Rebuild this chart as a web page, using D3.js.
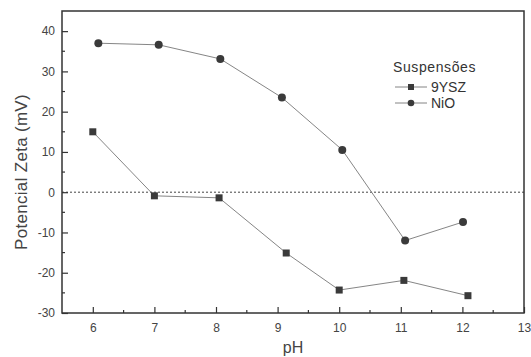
<!DOCTYPE html>
<html>
<head>
<meta charset="utf-8">
<script src="https://cdn.jsdelivr.net/npm/d3@7"></script>
<style>
  body { margin: 0; background: #fff; }
  text { font-family: "Liberation Sans", Arial, sans-serif; }
</style>
</head>
<body>
<script>
// data
var ysz_ph = [6.0, 7.0, 8.05, 9.14, 10.0, 11.05, 12.09];
var ysz_zeta = [15, -0.9, -1.4, -15.1, -24.3, -21.9, -25.7];
var nio_ph = [6.09, 7.07, 8.07, 9.07, 10.05, 11.07, 12.01];
var nio_zeta = [37.0, 36.6, 33.1, 23.5, 10.5, -12.0, -7.4];
var x_ticks = [6, 7, 8, 9, 10, 11, 12, 13];
var y_ticks = [-30, -20, -10, 0, 10, 20, 30, 40];
var legend_title = "Suspensões";
var series_names = ["9YSZ", "NiO"];

var margin = {top: 11, right: 7, bottom: 44, left: 62},
    width = 531 - margin.left - margin.right,
    height = 357 - margin.top - margin.bottom;

var xScale = d3.scaleLinear().domain([5.5, 13]).range([0, width]);
var yScale = d3.scaleLinear().domain([-30, 45]).range([height, 0]);

var svg = d3.select("body").append("svg")
    .attr("width", 531)
    .attr("height", 357);

var g = svg.append("g")
    .attr("transform", "translate(" + margin.left + "," + margin.top + ")");

var axisColor = "#333";
var fmt = function(d) { return String(d); };  // plain hyphen minus

// zero reference line
g.append("line")
    .attr("x1", 0).attr("x2", width)
    .attr("y1", yScale(0)).attr("y2", yScale(0))
    .attr("stroke", "#444")
    .attr("stroke-width", 1)
    .attr("stroke-dasharray", "2,2");

// minor ticks
var xMinor = d3.range(6.5, 13, 1);
var yMinor = d3.range(-25, 45, 10);

var xAxis = g.append("g")
    .attr("transform", "translate(0," + height + ")")
    .call(d3.axisBottom(xScale).tickValues(x_ticks).tickSize(-6).tickPadding(10)
        .tickFormat(fmt));
xAxis.append("g").selectAll("line").data(xMinor).enter().append("line")
    .attr("x1", function(d) { return xScale(d); })
    .attr("x2", function(d) { return xScale(d); })
    .attr("y1", 0).attr("y2", -3);

var yAxis = g.append("g")
    .call(d3.axisLeft(yScale).tickValues(y_ticks).tickSize(-6).tickPadding(7)
        .tickFormat(fmt));
yAxis.append("g").selectAll("line").data(yMinor).enter().append("line")
    .attr("x1", 0).attr("x2", 3)
    .attr("y1", function(d) { return yScale(d); })
    .attr("y2", function(d) { return yScale(d); });

[xAxis, yAxis].forEach(function(a) {
    a.select(".domain").remove();
    a.selectAll("line").attr("stroke", axisColor).attr("stroke-width", 1.2);
    a.selectAll("text")
        .attr("fill", "#444")
        .style("font-size", "12px");
});

// frame
g.append("rect")
    .attr("width", width).attr("height", height)
    .attr("fill", "none")
    .attr("stroke", axisColor)
    .attr("stroke-width", 1.5);

// series
var line = d3.line()
    .x(function(d) { return xScale(d.x); })
    .y(function(d) { return yScale(d.y); });

var ysz = ysz_ph.map(function(d, i) { return {x: d, y: ysz_zeta[i]}; });
var nio = nio_ph.map(function(d, i) { return {x: d, y: nio_zeta[i]}; });

[ysz, nio].forEach(function(s) {
    g.append("path")
        .datum(s)
        .attr("d", line)
        .attr("fill", "none")
        .attr("stroke", "#777")
        .attr("stroke-width", 0.9);
});

g.append("g").selectAll("rect").data(ysz).enter().append("rect")
    .attr("x", function(d) { return xScale(d.x) - 3.5; })
    .attr("y", function(d) { return yScale(d.y) - 3.5; })
    .attr("width", 7).attr("height", 7)
    .attr("fill", "#3a3a3a");

g.append("g").selectAll("circle").data(nio).enter().append("circle")
    .attr("cx", function(d) { return xScale(d.x); })
    .attr("cy", function(d) { return yScale(d.y); })
    .attr("r", 4)
    .attr("fill", "#3a3a3a");

// legend
var legend = svg.append("g").attr("transform", "translate(393,0)");
legend.append("text")
    .attr("x", 0).attr("y", 72)
    .attr("fill", "#333")
    .style("font-size", "14px")
    .style("letter-spacing", "0.6px")
    .text(legend_title);

series_names.forEach(function(name, i) {
    var cy = 87 + i * 16;
    legend.append("line")
        .attr("x1", 2).attr("x2", 34)
        .attr("y1", cy).attr("y2", cy)
        .attr("stroke", "#777").attr("stroke-width", 0.9);
    if (i == 0) {
        legend.append("rect")
            .attr("x", 15).attr("y", cy - 3)
            .attr("width", 6).attr("height", 6)
            .attr("fill", "#3a3a3a");
    } else {
        legend.append("circle")
            .attr("cx", 18).attr("cy", cy).attr("r", 3.3)
            .attr("fill", "#3a3a3a");
    }
    legend.append("text")
        .attr("x", 38).attr("y", cy + 5)
        .attr("fill", "#333")
        .style("font-size", "14px")
        .text(name);
});

// axis titles
svg.append("text")
    .attr("transform", "translate(27,172) rotate(-90)")
    .attr("text-anchor", "middle")
    .attr("fill", "#444")
    .style("font-size", "17px")
    .style("letter-spacing", "0.3px")
    .text("Potencial Zeta (mV)");

svg.append("text")
    .attr("x", 293).attr("y", 353)
    .attr("text-anchor", "middle")
    .attr("fill", "#444")
    .style("font-size", "16px")
    .text("pH");
</script>
</body>
</html>
